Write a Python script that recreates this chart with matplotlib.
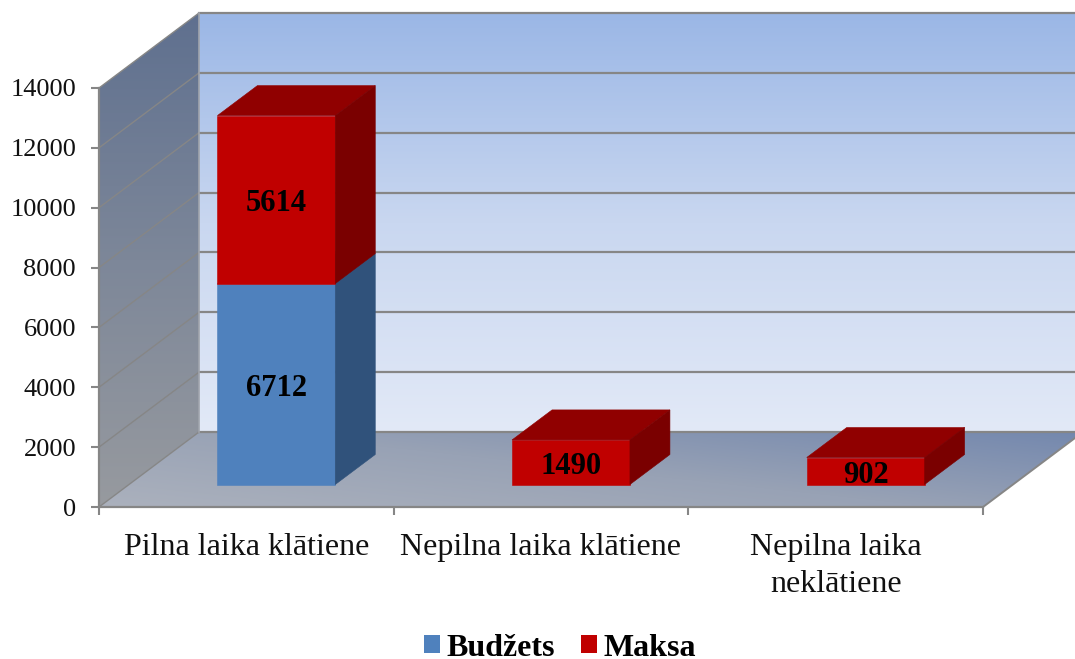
import numpy as np
import matplotlib
matplotlib.use("Agg")
import matplotlib.pyplot as plt
from matplotlib.patches import Polygon, Patch
from matplotlib.colors import LinearSegmentedColormap

categories = ["Pilna laika klātiene", "Nepilna laika klātiene", "Nepilna laika\nneklātiene"]
budget = [6712, 0, 0]
fee = [5614, 1490, 902]
y_ticks = [0, 2000, 4000, 6000, 8000, 10000, 12000, 14000]
series_names = ["Budžets", "Maksa"]

W, H = 1075, 659
L, R, T, B = 99, 983, 88, 507
DX_PX, DY_PX = 100, 75
plt.rcParams["font.family"] = ["Liberation Serif", "DejaVu Serif"]
GRAY = "#868686"

fig = plt.figure(figsize=(W / 100, H / 100), dpi=100)
ax = fig.add_axes([L / W, 1 - B / H, (R - L) / W, (B - T) / H])
ax.set_xlim(0, len(categories))
ax.set_ylim(0, y_ticks[-1])
ax.patch.set_visible(False)

dx = DX_PX / ((R - L) / len(categories))
dy = DY_PX / ((B - T) / y_ticks[-1])
xmax, ymax = len(categories), y_ticks[-1]


def P(x, y, d=0.0):
    return (x + d * dx, y + d * dy)


def gradient(poly, colors, angle, z):
    patch = Polygon(poly, closed=True, fc="none", ec="none", transform=ax.transData, clip_on=False)
    ax.add_patch(patch)
    xs, ys = zip(*poly)
    u, v = np.meshgrid(np.linspace(0, 1, 200), np.linspace(0, 1, 200))
    img = np.cos(angle) * u + np.sin(angle) * v
    img = (img - img.min()) / (img.max() - img.min())
    cmap = LinearSegmentedColormap.from_list("g", colors)
    im = ax.imshow(img, extent=(min(xs), max(xs), min(ys), max(ys)), origin="lower",
                   cmap=cmap, aspect="auto", zorder=z, interpolation="bilinear")
    im.set_clip_box(fig.bbox)
    im.set_clip_path(patch)


# back wall, side wall, floor
back = [P(0, 0, 1), P(xmax, 0, 1), P(xmax, ymax, 1), P(0, ymax, 1)]
side = [P(0, 0, 0), P(0, 0, 1), P(0, ymax, 1), P(0, ymax, 0)]
floor = [P(0, 0, 0), P(xmax, 0, 0), P(xmax, 0, 1), P(0, 0, 1)]
gradient(back, ["#E2E9F7", "#C9D7F0", "#9BB7E6"], np.pi / 2, 1)
gradient(side, ["#979A9F", "#7D8799", "#5F708F"], np.pi / 2, 1)
gradient(floor, ["#ABB1BD", "#98A2B5", "#7488AE"], np.radians(35), 1)
ax.set_xlim(0, xmax)
ax.set_ylim(0, ymax)

# grid on both walls
for v in y_ticks:
    (x0, y0), (x1, y1) = P(0, v, 1), P(xmax, v, 1)
    ax.plot([x0, x1], [y0, y1], color=GRAY, lw=1.6, zorder=2, clip_on=False)
    (xa, ya) = P(0, v, 0)
    ax.plot([xa, x0], [ya, y0], color=GRAY, lw=1.0, zorder=2, clip_on=False)
(x0, y0), (x1, y1) = P(0, 0, 1), P(0, ymax, 1)
ax.plot([x0, x1], [y0, y1], color="#A0A4AC", lw=1.2, zorder=2, clip_on=False)
(x0, y0), (x1, y1) = P(xmax, 0, 0), P(xmax, 0, 1)
ax.plot([x0, x1], [y0, y1], color=GRAY, lw=1.4, zorder=2, clip_on=False)

# bars
FACE = {"b": ("#4F81BD", "#3A5F8F", "#30527B"), "r": ("#C00000", "#900000", "#7A0000")}
D0, D1 = 0.3, 0.7
W0, W1 = 0.3, 0.7


def box(i, lo, hi, key, z):
    f, t, s = FACE[key]
    a, b = i + W0, i + W1
    ax.add_patch(Polygon([P(a, lo, D0), P(b, lo, D0), P(b, hi, D0), P(a, hi, D0)], fc=f, ec=f, lw=0.4, zorder=z, clip_on=False))
    ax.add_patch(Polygon([P(a, hi, D0), P(b, hi, D0), P(b, hi, D1), P(a, hi, D1)], fc=t, ec=t, lw=0.4, zorder=z, clip_on=False))
    ax.add_patch(Polygon([P(b, lo, D0), P(b, lo, D1), P(b, hi, D1), P(b, hi, D0)], fc=s, ec=s, lw=0.4, zorder=z, clip_on=False))


def value_label(i, mid, val):
    ax.annotate(str(val), xy=P(i + 0.5, mid, D0), xytext=(0, -3), textcoords="offset points",
                ha="center", va="center", fontsize=22, fontweight="bold", color="black", zorder=6)


for i in range(len(categories)):
    if budget[i]:
        box(i, 0, budget[i], "b", 3)
        value_label(i, budget[i] / 2, budget[i])
    box(i, budget[i], budget[i] + fee[i], "r", 4)
    value_label(i, budget[i] + fee[i] / 2, fee[i])

# axes
for s in ("top", "right"):
    ax.spines[s].set_visible(False)
for s in ("left", "bottom"):
    ax.spines[s].set_color(GRAY)
    ax.spines[s].set_linewidth(1.6)
    ax.spines[s].set_zorder(5)
ax.set_yticks(y_ticks)
ax.set_yticklabels([str(v) for v in y_ticks], fontsize=19, color="#111111")
ax.tick_params(axis="y", length=6, width=1.5, color=GRAY, pad=10.5)
ax.set_xticks(range(len(categories) + 1))
ax.set_xticklabels([])
ax.tick_params(axis="x", which="major", length=6, width=1.5, color=GRAY)
ax.set_xticks([i + 0.5 for i in range(len(categories))], minor=True)
ax.set_xticklabels(categories, minor=True, fontsize=23, color="#111111", linespacing=1.34, ha="center", va="top")
ax.tick_params(axis="x", which="minor", length=0, pad=19)

# legend
handles = [Patch(fc=FACE["b"][0], ec="none"), Patch(fc=FACE["r"][0], ec="none")]
leg = fig.legend(handles, series_names, loc="center", bbox_to_anchor=(560 / W, 1 - 648 / H), ncol=2, frameon=False,
                 prop={"size": 23, "weight": "bold"}, handlelength=0.5, handleheight=0.5,
                 handletextpad=0.22, columnspacing=0.8, borderpad=0)

fig.savefig("out.png", dpi=100, facecolor="white")
